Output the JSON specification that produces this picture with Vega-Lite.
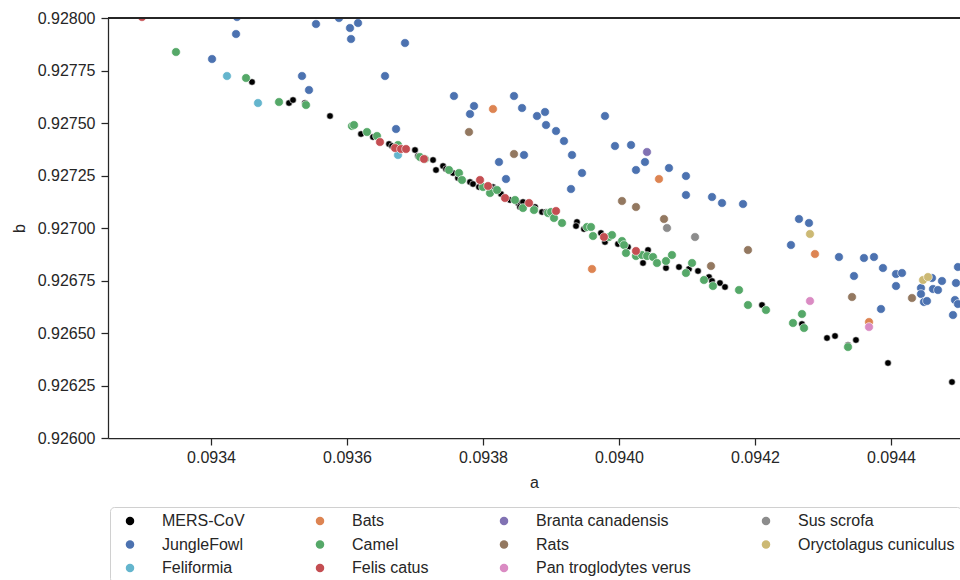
{
  "$schema": "https://vega.github.io/schema/vega-lite/v6.json",
  "width": 852,
  "height": 420,
  "autosize": {"type": "none"},
  "padding": {"left": 108, "top": 18, "right": 0, "bottom": 142},
  "background": "white",
  "config": {
    "view": {"stroke": null},
    "font": "Liberation Sans",
    "axis": {
      "grid": false,
      "domainColor": "#262626",
      "domainWidth": 1.25,
      "tickColor": "#262626",
      "tickWidth": 1.25,
      "tickSize": 7,
      "labelFont": "Liberation Sans",
      "labelFontSize": 16,
      "labelColor": "#262626",
      "titleFont": "Liberation Sans",
      "titleFontSize": 16,
      "titleFontWeight": "normal",
      "titleColor": "#262626"
    }
  },
  "data": {
    "values": [
      {"a": 0.0934603, "b": 0.9276952, "host": "MERS-CoV"},
      {"a": 0.0935147, "b": 0.9275952, "host": "MERS-CoV"},
      {"a": 0.0935206, "b": 0.9276095, "host": "MERS-CoV"},
      {"a": 0.0935382, "b": 0.9275952, "host": "MERS-CoV"},
      {"a": 0.0935750, "b": 0.9275333, "host": "MERS-CoV"},
      {"a": 0.0936206, "b": 0.9274476, "host": "MERS-CoV"},
      {"a": 0.0936382, "b": 0.9274333, "host": "MERS-CoV"},
      {"a": 0.0936618, "b": 0.9274000, "host": "MERS-CoV"},
      {"a": 0.0936662, "b": 0.9273905, "host": "MERS-CoV"},
      {"a": 0.0937000, "b": 0.9273714, "host": "MERS-CoV"},
      {"a": 0.0937044, "b": 0.9273428, "host": "MERS-CoV"},
      {"a": 0.0937073, "b": 0.9273333, "host": "MERS-CoV"},
      {"a": 0.0937265, "b": 0.9273238, "host": "MERS-CoV"},
      {"a": 0.0937309, "b": 0.9272762, "host": "MERS-CoV"},
      {"a": 0.0937412, "b": 0.9272952, "host": "MERS-CoV"},
      {"a": 0.0937456, "b": 0.9272809, "host": "MERS-CoV"},
      {"a": 0.0937559, "b": 0.9272619, "host": "MERS-CoV"},
      {"a": 0.0937632, "b": 0.9272381, "host": "MERS-CoV"},
      {"a": 0.0937809, "b": 0.9272190, "host": "MERS-CoV"},
      {"a": 0.0937853, "b": 0.9272095, "host": "MERS-CoV"},
      {"a": 0.0937941, "b": 0.9271952, "host": "MERS-CoV"},
      {"a": 0.0938147, "b": 0.9271952, "host": "MERS-CoV"},
      {"a": 0.0938177, "b": 0.9271857, "host": "MERS-CoV"},
      {"a": 0.0938265, "b": 0.9271619, "host": "MERS-CoV"},
      {"a": 0.0938397, "b": 0.9271333, "host": "MERS-CoV"},
      {"a": 0.0938515, "b": 0.9271190, "host": "MERS-CoV"},
      {"a": 0.0938544, "b": 0.9271000, "host": "MERS-CoV"},
      {"a": 0.0938588, "b": 0.9271238, "host": "MERS-CoV"},
      {"a": 0.0938765, "b": 0.9271000, "host": "MERS-CoV"},
      {"a": 0.0938868, "b": 0.9270762, "host": "MERS-CoV"},
      {"a": 0.0938927, "b": 0.9270762, "host": "MERS-CoV"},
      {"a": 0.0938971, "b": 0.9270666, "host": "MERS-CoV"},
      {"a": 0.0939382, "b": 0.9270286, "host": "MERS-CoV"},
      {"a": 0.0939368, "b": 0.9270095, "host": "MERS-CoV"},
      {"a": 0.0939485, "b": 0.9269952, "host": "MERS-CoV"},
      {"a": 0.0939735, "b": 0.9269762, "host": "MERS-CoV"},
      {"a": 0.0939794, "b": 0.9269333, "host": "MERS-CoV"},
      {"a": 0.0939985, "b": 0.9269238, "host": "MERS-CoV"},
      {"a": 0.0940132, "b": 0.9269095, "host": "MERS-CoV"},
      {"a": 0.0940427, "b": 0.9268952, "host": "MERS-CoV"},
      {"a": 0.0940353, "b": 0.9268333, "host": "MERS-CoV"},
      {"a": 0.0940691, "b": 0.9268095, "host": "MERS-CoV"},
      {"a": 0.0940882, "b": 0.9268143, "host": "MERS-CoV"},
      {"a": 0.0941029, "b": 0.9268047, "host": "MERS-CoV"},
      {"a": 0.0941162, "b": 0.9267952, "host": "MERS-CoV"},
      {"a": 0.0941324, "b": 0.9267666, "host": "MERS-CoV"},
      {"a": 0.0941368, "b": 0.9267476, "host": "MERS-CoV"},
      {"a": 0.0941485, "b": 0.9267381, "host": "MERS-CoV"},
      {"a": 0.0941559, "b": 0.9267190, "host": "MERS-CoV"},
      {"a": 0.0942103, "b": 0.9266333, "host": "MERS-CoV"},
      {"a": 0.0942691, "b": 0.9265428, "host": "MERS-CoV"},
      {"a": 0.0943059, "b": 0.9264762, "host": "MERS-CoV"},
      {"a": 0.0943177, "b": 0.9264857, "host": "MERS-CoV"},
      {"a": 0.0943485, "b": 0.9264666, "host": "MERS-CoV"},
      {"a": 0.0943368, "b": 0.9264428, "host": "MERS-CoV"},
      {"a": 0.0943956, "b": 0.9263571, "host": "MERS-CoV"},
      {"a": 0.0944897, "b": 0.9262666, "host": "MERS-CoV"},

      {"a": 0.0934382, "b": 0.9280048, "host": "JungleFowl"},
      {"a": 0.0934368, "b": 0.9279238, "host": "JungleFowl"},
      {"a": 0.0934015, "b": 0.9278047, "host": "JungleFowl"},
      {"a": 0.0935544, "b": 0.9279714, "host": "JungleFowl"},
      {"a": 0.0935882, "b": 0.9280000, "host": "JungleFowl"},
      {"a": 0.0936044, "b": 0.9279524, "host": "JungleFowl"},
      {"a": 0.0936162, "b": 0.9279762, "host": "JungleFowl"},
      {"a": 0.0936059, "b": 0.9279000, "host": "JungleFowl"},
      {"a": 0.0935338, "b": 0.9277238, "host": "JungleFowl"},
      {"a": 0.0935441, "b": 0.9276571, "host": "JungleFowl"},
      {"a": 0.0936559, "b": 0.9277238, "host": "JungleFowl"},
      {"a": 0.0936853, "b": 0.9278809, "host": "JungleFowl"},
      {"a": 0.0936721, "b": 0.9274714, "host": "JungleFowl"},
      {"a": 0.0937573, "b": 0.9276286, "host": "JungleFowl"},
      {"a": 0.0937868, "b": 0.9275809, "host": "JungleFowl"},
      {"a": 0.0937809, "b": 0.9275428, "host": "JungleFowl"},
      {"a": 0.0938456, "b": 0.9276286, "host": "JungleFowl"},
      {"a": 0.0938574, "b": 0.9275714, "host": "JungleFowl"},
      {"a": 0.0938794, "b": 0.9275333, "host": "JungleFowl"},
      {"a": 0.0938912, "b": 0.9275524, "host": "JungleFowl"},
      {"a": 0.0938927, "b": 0.9274905, "host": "JungleFowl"},
      {"a": 0.0939074, "b": 0.9274619, "host": "JungleFowl"},
      {"a": 0.0939191, "b": 0.9274143, "host": "JungleFowl"},
      {"a": 0.0939309, "b": 0.9273476, "host": "JungleFowl"},
      {"a": 0.0939456, "b": 0.9272619, "host": "JungleFowl"},
      {"a": 0.0939294, "b": 0.9271857, "host": "JungleFowl"},
      {"a": 0.0939794, "b": 0.9275333, "host": "JungleFowl"},
      {"a": 0.0939941, "b": 0.9273905, "host": "JungleFowl"},
      {"a": 0.0940177, "b": 0.9273952, "host": "JungleFowl"},
      {"a": 0.0940382, "b": 0.9273143, "host": "JungleFowl"},
      {"a": 0.0940250, "b": 0.9272762, "host": "JungleFowl"},
      {"a": 0.0940735, "b": 0.9272857, "host": "JungleFowl"},
      {"a": 0.0938603, "b": 0.9273476, "host": "JungleFowl"},
      {"a": 0.0938235, "b": 0.9273143, "host": "JungleFowl"},
      {"a": 0.0938338, "b": 0.9272333, "host": "JungleFowl"},
      {"a": 0.0940985, "b": 0.9272476, "host": "JungleFowl"},
      {"a": 0.0940985, "b": 0.9271571, "host": "JungleFowl"},
      {"a": 0.0941368, "b": 0.9271476, "host": "JungleFowl"},
      {"a": 0.0941515, "b": 0.9271190, "host": "JungleFowl"},
      {"a": 0.0941824, "b": 0.9271143, "host": "JungleFowl"},
      {"a": 0.0942647, "b": 0.9270428, "host": "JungleFowl"},
      {"a": 0.0942794, "b": 0.9270238, "host": "JungleFowl"},
      {"a": 0.0942529, "b": 0.9269190, "host": "JungleFowl"},
      {"a": 0.0943235, "b": 0.9268619, "host": "JungleFowl"},
      {"a": 0.0943603, "b": 0.9268571, "host": "JungleFowl"},
      {"a": 0.0943750, "b": 0.9268619, "host": "JungleFowl"},
      {"a": 0.0943882, "b": 0.9268095, "host": "JungleFowl"},
      {"a": 0.0944074, "b": 0.9267809, "host": "JungleFowl"},
      {"a": 0.0944162, "b": 0.9267857, "host": "JungleFowl"},
      {"a": 0.0943456, "b": 0.9267714, "host": "JungleFowl"},
      {"a": 0.0944074, "b": 0.9267238, "host": "JungleFowl"},
      {"a": 0.0944603, "b": 0.9267619, "host": "JungleFowl"},
      {"a": 0.0944750, "b": 0.9267476, "host": "JungleFowl"},
      {"a": 0.0944985, "b": 0.9268143, "host": "JungleFowl"},
      {"a": 0.0944956, "b": 0.9267381, "host": "JungleFowl"},
      {"a": 0.0944441, "b": 0.9267143, "host": "JungleFowl"},
      {"a": 0.0944618, "b": 0.9267095, "host": "JungleFowl"},
      {"a": 0.0944691, "b": 0.9267047, "host": "JungleFowl"},
      {"a": 0.0944441, "b": 0.9266857, "host": "JungleFowl"},
      {"a": 0.0944485, "b": 0.9266476, "host": "JungleFowl"},
      {"a": 0.0944529, "b": 0.9266524, "host": "JungleFowl"},
      {"a": 0.0944941, "b": 0.9266571, "host": "JungleFowl"},
      {"a": 0.0944985, "b": 0.9266381, "host": "JungleFowl"},
      {"a": 0.0944912, "b": 0.9265857, "host": "JungleFowl"},
      {"a": 0.0943853, "b": 0.9266143, "host": "JungleFowl"},

      {"a": 0.0934235, "b": 0.9277238, "host": "Feliformia"},
      {"a": 0.0934691, "b": 0.9275952, "host": "Feliformia"},
      {"a": 0.0936750, "b": 0.9273476, "host": "Feliformia"},

      {"a": 0.0938147, "b": 0.9275666, "host": "Bats"},
      {"a": 0.0940588, "b": 0.9272333, "host": "Bats"},
      {"a": 0.0939603, "b": 0.9268047, "host": "Bats"},
      {"a": 0.0942882, "b": 0.9268762, "host": "Bats"},
      {"a": 0.0943677, "b": 0.9265524, "host": "Bats"},

      {"a": 0.0933485, "b": 0.9278381, "host": "Camel"},
      {"a": 0.0934515, "b": 0.9277143, "host": "Camel"},
      {"a": 0.0935000, "b": 0.9276000, "host": "Camel"},
      {"a": 0.0935397, "b": 0.9275857, "host": "Camel"},
      {"a": 0.0936073, "b": 0.9274857, "host": "Camel"},
      {"a": 0.0936103, "b": 0.9274905, "host": "Camel"},
      {"a": 0.0936294, "b": 0.9274571, "host": "Camel"},
      {"a": 0.0936441, "b": 0.9274381, "host": "Camel"},
      {"a": 0.0936750, "b": 0.9273952, "host": "Camel"},
      {"a": 0.0937073, "b": 0.9273381, "host": "Camel"},
      {"a": 0.0937147, "b": 0.9273286, "host": "Camel"},
      {"a": 0.0937500, "b": 0.9272762, "host": "Camel"},
      {"a": 0.0937647, "b": 0.9272619, "host": "Camel"},
      {"a": 0.0937691, "b": 0.9272286, "host": "Camel"},
      {"a": 0.0938000, "b": 0.9271952, "host": "Camel"},
      {"a": 0.0938103, "b": 0.9271666, "host": "Camel"},
      {"a": 0.0938206, "b": 0.9271809, "host": "Camel"},
      {"a": 0.0938471, "b": 0.9271333, "host": "Camel"},
      {"a": 0.0938588, "b": 0.9270952, "host": "Camel"},
      {"a": 0.0938750, "b": 0.9270857, "host": "Camel"},
      {"a": 0.0938956, "b": 0.9270714, "host": "Camel"},
      {"a": 0.0939000, "b": 0.9270762, "host": "Camel"},
      {"a": 0.0939044, "b": 0.9270476, "host": "Camel"},
      {"a": 0.0939162, "b": 0.9270238, "host": "Camel"},
      {"a": 0.0939529, "b": 0.9270047, "host": "Camel"},
      {"a": 0.0939588, "b": 0.9270047, "host": "Camel"},
      {"a": 0.0939618, "b": 0.9269619, "host": "Camel"},
      {"a": 0.0939853, "b": 0.9269571, "host": "Camel"},
      {"a": 0.0939897, "b": 0.9269666, "host": "Camel"},
      {"a": 0.0940044, "b": 0.9269381, "host": "Camel"},
      {"a": 0.0940074, "b": 0.9269190, "host": "Camel"},
      {"a": 0.0940103, "b": 0.9268809, "host": "Camel"},
      {"a": 0.0940250, "b": 0.9268666, "host": "Camel"},
      {"a": 0.0940338, "b": 0.9268714, "host": "Camel"},
      {"a": 0.0940412, "b": 0.9268666, "host": "Camel"},
      {"a": 0.0940500, "b": 0.9268619, "host": "Camel"},
      {"a": 0.0940559, "b": 0.9268333, "host": "Camel"},
      {"a": 0.0940691, "b": 0.9268428, "host": "Camel"},
      {"a": 0.0940779, "b": 0.9268714, "host": "Camel"},
      {"a": 0.0940985, "b": 0.9267857, "host": "Camel"},
      {"a": 0.0941074, "b": 0.9268333, "host": "Camel"},
      {"a": 0.0941250, "b": 0.9267524, "host": "Camel"},
      {"a": 0.0941382, "b": 0.9267238, "host": "Camel"},
      {"a": 0.0941765, "b": 0.9267047, "host": "Camel"},
      {"a": 0.0941897, "b": 0.9266333, "host": "Camel"},
      {"a": 0.0942162, "b": 0.9266095, "host": "Camel"},
      {"a": 0.0942559, "b": 0.9265476, "host": "Camel"},
      {"a": 0.0942691, "b": 0.9265905, "host": "Camel"},
      {"a": 0.0942721, "b": 0.9265238, "host": "Camel"},
      {"a": 0.0943368, "b": 0.9264333, "host": "Camel"},

      {"a": 0.0932985, "b": 0.9280048, "host": "Felis catus"},
      {"a": 0.0936485, "b": 0.9274095, "host": "Felis catus"},
      {"a": 0.0936706, "b": 0.9273809, "host": "Felis catus"},
      {"a": 0.0936794, "b": 0.9273762, "host": "Felis catus"},
      {"a": 0.0936868, "b": 0.9273762, "host": "Felis catus"},
      {"a": 0.0937132, "b": 0.9273286, "host": "Felis catus"},
      {"a": 0.0937956, "b": 0.9272286, "host": "Felis catus"},
      {"a": 0.0938074, "b": 0.9272000, "host": "Felis catus"},
      {"a": 0.0938324, "b": 0.9271428, "host": "Felis catus"},
      {"a": 0.0938677, "b": 0.9271190, "host": "Felis catus"},
      {"a": 0.0939074, "b": 0.9270809, "host": "Felis catus"},
      {"a": 0.0939779, "b": 0.9269571, "host": "Felis catus"},
      {"a": 0.0940250, "b": 0.9268905, "host": "Felis catus"},

      {"a": 0.0940412, "b": 0.9273619, "host": "Branta canadensis"},

      {"a": 0.0937794, "b": 0.9274571, "host": "Rats"},
      {"a": 0.0938456, "b": 0.9273524, "host": "Rats"},
      {"a": 0.0940044, "b": 0.9271286, "host": "Rats"},
      {"a": 0.0940250, "b": 0.9271000, "host": "Rats"},
      {"a": 0.0940662, "b": 0.9270428, "host": "Rats"},
      {"a": 0.0941897, "b": 0.9268952, "host": "Rats"},
      {"a": 0.0941353, "b": 0.9268190, "host": "Rats"},
      {"a": 0.0943427, "b": 0.9266714, "host": "Rats"},
      {"a": 0.0944309, "b": 0.9266666, "host": "Rats"},

      {"a": 0.0942809, "b": 0.9266524, "host": "Pan troglodytes verus"},
      {"a": 0.0943677, "b": 0.9265286, "host": "Pan troglodytes verus"},

      {"a": 0.0940706, "b": 0.9270000, "host": "Sus scrofa"},
      {"a": 0.0941118, "b": 0.9269571, "host": "Sus scrofa"},

      {"a": 0.0942809, "b": 0.9269714, "host": "Oryctolagus cuniculus"},
      {"a": 0.0944471, "b": 0.9267524, "host": "Oryctolagus cuniculus"},
      {"a": 0.0944544, "b": 0.9267666, "host": "Oryctolagus cuniculus"}
    ]
  },
  "layer": [
    {
      "mark": {"type": "point", "filled": true, "opacity": 1, "clip": true, "stroke": "white", "strokeWidth": 0.6},
      "encoding": {
        "x": {
          "field": "a", "type": "quantitative", "title": "a",
          "scale": {"domain": [0.0932485, 0.0945015], "nice": false, "zero": false},
          "axis": {"values": [0.0934, 0.0936, 0.0938, 0.094, 0.0942, 0.0944], "format": ".4f", "labelPadding": 4, "titlePadding": 9}
        },
        "y": {
          "field": "b", "type": "quantitative", "title": "b",
          "scale": {"domain": [0.926, 0.928], "nice": false, "zero": false},
          "axis": {"values": [0.926, 0.92625, 0.9265, 0.92675, 0.927, 0.92725, 0.9275, 0.92775, 0.928], "format": ".5f", "labelPadding": 6, "titlePadding": 10}
        },
        "color": {
          "field": "host", "type": "nominal",
          "scale": {
            "domain": ["MERS-CoV", "Bats", "Branta canadensis", "Sus scrofa", "JungleFowl", "Camel", "Rats", "Oryctolagus cuniculus", "Feliformia", "Felis catus", "Pan troglodytes verus"],
            "range": ["#000000", "#DD8452", "#8172B3", "#8C8C8C", "#4C72B0", "#55A868", "#937860", "#CCB974", "#64B5CD", "#C44E52", "#DA8BC3"]
          },
          "legend": {
            "title": null,
            "orient": "none",
            "legendX": 2,
            "legendY": 489,
            "columns": 4,
            "direction": "horizontal",
            "columnPadding": 61,
            "rowPadding": 7.5,
            "padding": 6,
            "symbolOffset": 6,
            "labelOffset": 24,
            "labelLimit": 400,
            "labelFont": "Liberation Sans",
            "labelFontSize": 16,
            "labelColor": "#262626",
            "symbolType": "circle",
            "symbolSize": 72,
            "symbolStrokeWidth": 0,
            "strokeColor": "#d0d0d0",
            "fillColor": "white",
            "cornerRadius": 4,
            "encode": {
              "symbols": {"update": {"size": {"signal": "datum.value === 'MERS-CoV' ? 26 : 72"}}}
            }
          }
        },
        "size": {
          "condition": {"test": "datum.host === 'MERS-CoV'", "value": 44},
          "value": 76
        }
      }
    },
    {
      "mark": {"type": "rule", "color": "#262626", "strokeWidth": 1.25},
      "encoding": {"y": {"datum": 0.928}}
    }
  ]
}
